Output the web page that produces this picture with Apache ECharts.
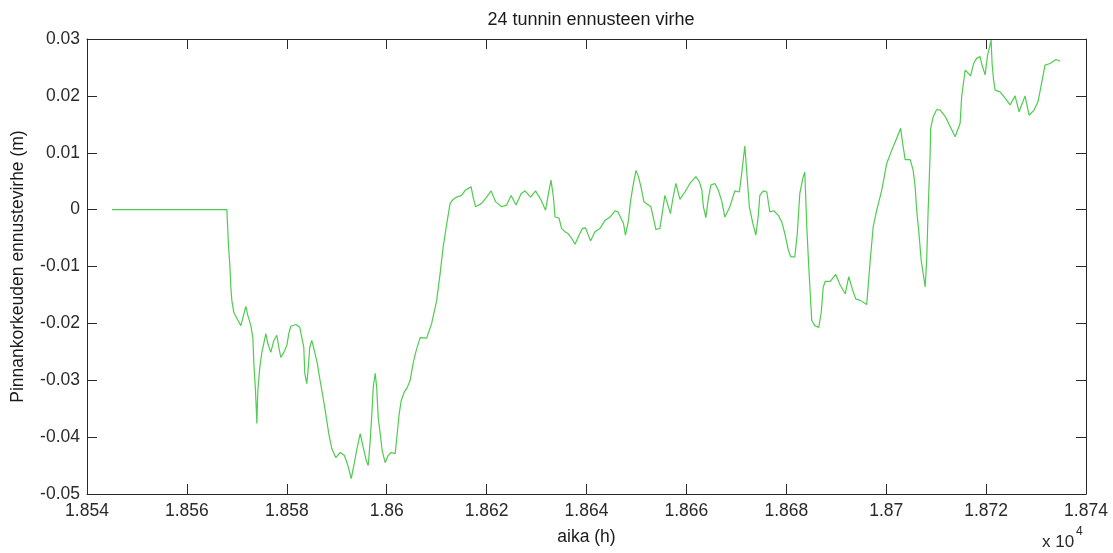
<!DOCTYPE html>
<html>
<head>
<meta charset="utf-8">
<title>24 tunnin ennusteen virhe</title>
<script src="https://cdn.jsdelivr.net/npm/echarts@6/dist/echarts.min.js"></script>
<style>
  html, body { margin: 0; padding: 0; background: #ffffff; overflow: hidden; }
  #chart { width: 1113px; height: 553px; overflow: hidden; }
</style>
</head>
<body>
<div id="chart"></div>
<script>
// Time of each sample (h)
const hours = [
  18545.0, 18568.0, 18568.1, 18568.3, 18568.6, 18568.8, 18569.0, 18569.4, 18570.0, 18570.8,
  18571.8, 18572.2, 18572.8, 18573.2, 18573.4, 18573.7, 18573.9, 18574.0, 18574.2, 18574.6,
  18575.0, 18575.4, 18575.8, 18576.2, 18576.8, 18577.4, 18578.0, 18578.4, 18578.8, 18579.4,
  18580.0, 18580.4, 18580.8, 18581.8, 18582.6, 18583.0, 18583.4, 18583.6, 18584.0, 18584.2,
  18584.6, 18585.0, 18585.4, 18586.1, 18586.6, 18587.2, 18587.8, 18588.4, 18589.0, 18589.8,
  18590.7, 18591.5, 18592.1, 18592.5, 18592.9, 18593.5, 18594.1, 18594.7, 18595.3, 18595.9,
  18596.3, 18596.7, 18597.1, 18597.3, 18597.7, 18598.0, 18598.3, 18598.7, 18599.1, 18599.7,
  18600.3, 18600.9, 18601.7, 18602.1, 18602.5, 18602.9, 18603.5, 18604.1, 18604.7, 18605.3,
  18605.9, 18606.7, 18608.0, 18609.0, 18610.0, 18610.7, 18611.3, 18612.0, 18612.7, 18613.3,
  18614.0, 18615.0, 18615.7, 18616.9, 18617.3, 18617.8, 18619.0, 18620.0, 18620.9, 18621.8,
  18623.0, 18624.0, 18624.9, 18625.9, 18626.9, 18627.7, 18628.8, 18629.8, 18630.9, 18631.8,
  18632.4, 18632.9, 18633.4, 18633.7, 18634.5, 18635.0, 18635.7, 18636.3, 18637.0, 18637.7,
  18638.5, 18639.2, 18639.8, 18640.8, 18641.7, 18642.7, 18643.7, 18644.7, 18645.7, 18646.3,
  18646.9, 18647.4, 18647.8, 18648.4, 18648.8, 18649.4, 18649.9, 18650.4, 18650.9, 18651.5,
  18652.1, 18652.9, 18653.4, 18653.9, 18654.7, 18655.2, 18655.7, 18656.2, 18656.8, 18657.3,
  18657.9, 18658.7, 18659.7, 18660.7, 18661.9, 18662.6, 18663.1, 18663.4, 18663.9, 18664.4,
  18664.9, 18665.7, 18666.4, 18667.1, 18667.7, 18668.7, 18669.7, 18670.6, 18671.1, 18671.7,
  18672.1, 18672.6, 18673.3, 18673.9, 18674.4, 18674.7, 18675.4, 18676.1, 18676.7, 18677.5,
  18678.4, 18679.1, 18679.7, 18680.4, 18680.9, 18681.7, 18682.2, 18682.7, 18683.3, 18683.7,
  18684.1, 18684.5, 18684.9, 18685.1, 18685.7, 18686.5, 18687.0, 18687.4, 18687.8, 18688.8,
  18689.9, 18690.8, 18691.8, 18692.5, 18693.2, 18693.9, 18694.9, 18696.1, 18696.8, 18697.4,
  18698.1, 18699.1, 18700.1, 18701.0, 18701.8, 18702.9, 18703.3, 18703.8, 18704.8, 18705.4,
  18705.8, 18706.1, 18706.5, 18707.0, 18707.4, 18707.8, 18708.1, 18708.4, 18708.8, 18708.9,
  18709.4, 18710.1, 18710.8, 18711.8, 18712.8, 18713.8, 18714.8, 18715.1, 18715.8, 18716.3,
  18716.9, 18717.5, 18718.1, 18718.8, 18719.1, 18719.8, 18720.3, 18720.7, 18721.0, 18721.2,
  18721.5, 18721.8, 18722.8, 18723.8, 18724.8, 18725.8, 18726.6, 18727.8, 18728.6, 18729.6,
  18730.4, 18731.1, 18731.8, 18732.8, 18734.0, 18734.8
];

// Forecast error of the water level (m)
const errors = [
  0.0000, 0.0000, -0.0019, -0.0059, -0.0098, -0.0137, -0.0160, -0.0181, -0.0191, -0.0204,
  -0.0170, -0.0186, -0.0204, -0.0225, -0.0270, -0.0313, -0.0353, -0.0376, -0.0318, -0.0277,
  -0.0251, -0.0235, -0.0218, -0.0235, -0.0251, -0.0230, -0.0221, -0.0242, -0.0260, -0.0251,
  -0.0239, -0.0218, -0.0205, -0.0202, -0.0207, -0.0209, -0.0242, -0.0288, -0.0306, -0.0288,
  -0.0242, -0.0230, -0.0244, -0.0270, -0.0297, -0.0327, -0.0359, -0.0394, -0.0420, -0.0436,
  -0.0427, -0.0432, -0.0446, -0.0459, -0.0473, -0.0446, -0.0418, -0.0394, -0.0418, -0.0441,
  -0.0450, -0.0406, -0.0348, -0.0313, -0.0288, -0.0313, -0.0366, -0.0394, -0.0424, -0.0445,
  -0.0432, -0.0427, -0.0429, -0.0394, -0.0359, -0.0336, -0.0321, -0.0313, -0.0300, -0.0270,
  -0.0248, -0.0225, -0.0226, -0.0200, -0.0160, -0.0112, -0.0066, -0.0026, 0.0011, 0.0018,
  0.0022, 0.0025, 0.0034, 0.0040, 0.0022, 0.0005, 0.0011, 0.0022, 0.0033, 0.0014,
  0.0005, 0.0008, 0.0025, 0.0008, 0.0028, 0.0033, 0.0022, 0.0033, 0.0017, -0.0001,
  0.0029, 0.0052, 0.0020, -0.0013, -0.0015, -0.0033, -0.0039, -0.0042, -0.0050, -0.0061,
  -0.0045, -0.0033, -0.0032, -0.0055, -0.0039, -0.0033, -0.0019, -0.0013, -0.0002, -0.0004,
  -0.0015, -0.0024, -0.0045, -0.0019, 0.0014, 0.0046, 0.0069, 0.0058, 0.0040, 0.0014,
  0.0010, 0.0005, -0.0015, -0.0035, -0.0033, -0.0004, 0.0025, 0.0011, -0.0007, 0.0020,
  0.0046, 0.0018, 0.0031, 0.0046, 0.0058, 0.0049, 0.0034, 0.0005, -0.0014, 0.0020,
  0.0043, 0.0046, 0.0034, 0.0014, -0.0013, 0.0005, 0.0033, 0.0031, 0.0066, 0.0112,
  0.0064, 0.0005, -0.0024, -0.0045, -0.0010, 0.0025, 0.0033, 0.0031, -0.0004, -0.0002,
  -0.0010, -0.0022, -0.0042, -0.0071, -0.0083, -0.0083, -0.0042, 0.0028, 0.0055, 0.0066,
  -0.0030, -0.0101, -0.0165, -0.0195, -0.0204, -0.0207, -0.0180, -0.0136, -0.0126, -0.0126,
  -0.0114, -0.0133, -0.0148, -0.0118, -0.0139, -0.0157, -0.0160, -0.0167, -0.0089, -0.0030,
  -0.0001, 0.0034, 0.0081, 0.0102, 0.0119, 0.0143, 0.0116, 0.0088, 0.0088, 0.0069,
  0.0040, -0.0001, -0.0036, -0.0089, -0.0112, -0.0136, -0.0089, -0.0001, 0.0099, 0.0143,
  0.0163, 0.0176, 0.0175, 0.0164, 0.0146, 0.0128, 0.0152, 0.0198, 0.0245, 0.0241,
  0.0235, 0.0257, 0.0266, 0.0269, 0.0257, 0.0237, 0.0272, 0.0286, 0.0298, 0.0257,
  0.0228, 0.0210, 0.0207, 0.0196, 0.0184, 0.0200, 0.0172, 0.0200, 0.0166, 0.0175,
  0.0190, 0.0222, 0.0254, 0.0257, 0.0264, 0.0261
];

// Axis ranges and tick steps
const xRange = [18540, 18740];
const xStep = 20;
const yRange = [-0.05, 0.03];
const yStep = 0.01;

const titleText = '24 tunnin ennusteen virhe';
const xName = 'aika (h)';
const yName = 'Pinnankorkeuden ennustevirhe (m)';
const xScaleNote = 'x 10';
const xScaleExp = '4';

const series = hours.map((h, i) => [h, errors[i]]);

const fontFamily = '"Liberation Sans", Arial, Helvetica, sans-serif';
const ink = '#2a2a2a';
const labelSize = 17.5;
const nameSize = 17.5;

const boxLine = { show: true, onZero: false, lineStyle: { color: ink, width: 1 } };
const tickIn = { show: true, inside: true, length: 10, lineStyle: { color: ink, width: 1 } };

const chart = echarts.init(document.getElementById('chart'), null, { renderer: 'canvas' });

chart.setOption({
  animation: false,
  backgroundColor: '#ffffff',
  title: {
    text: titleText,
    left: 586,
    top: 6,
    textAlign: 'center',
    textStyle: { fontFamily, fontSize: 18, fontWeight: 'normal', color: '#1a1a1a' }
  },
  // fixed plot box; labels sit outside it without shrinking it
  grid: {
    left: 87, top: 39, width: 999, height: 455,
    containLabel: false, outerBoundsMode: 'none'
  },
  xAxis: [
    {
      type: 'value', position: 'bottom',
      min: xRange[0], max: xRange[1], interval: xStep,
      axisLine: boxLine, axisTick: tickIn, splitLine: { show: false },
      axisLabel: {
        margin: 8, color: ink, fontFamily, fontSize: labelSize,
        formatter: v => String(+(v / 10000).toFixed(3))
      },
      name: xName, nameLocation: 'middle', nameGap: 34,
      nameTextStyle: { fontFamily, fontSize: nameSize, color: '#1a1a1a' }
    },
    {
      type: 'value', position: 'top',
      min: xRange[0], max: xRange[1], interval: xStep,
      axisLine: boxLine, axisTick: tickIn, axisLabel: { show: false }, splitLine: { show: false }
    }
  ],
  yAxis: [
    {
      type: 'value', position: 'left',
      min: yRange[0], max: yRange[1], interval: yStep,
      axisLine: boxLine, axisTick: tickIn, splitLine: { show: false },
      axisLabel: {
        margin: 7, color: ink, fontFamily, fontSize: labelSize,
        formatter: v => String(+v.toFixed(2))
      },
      name: yName, nameLocation: 'middle', nameGap: 60, nameRotate: 90,
      nameTextStyle: { fontFamily, fontSize: nameSize, color: '#1a1a1a' }
    },
    {
      type: 'value', position: 'right',
      min: yRange[0], max: yRange[1], interval: yStep,
      axisLine: boxLine, axisTick: tickIn, axisLabel: { show: false }, splitLine: { show: false }
    }
  ],
  graphic: [
    {
      type: 'text', left: 1042, top: 534,
      style: { text: xScaleNote, fontFamily, fontSize: 17, fill: ink }
    },
    {
      type: 'text', left: 1076, top: 526,
      style: { text: xScaleExp, fontFamily, fontSize: 12, fill: ink }
    }
  ],
  series: [
    {
      type: 'line',
      data: series,
      showSymbol: false,
      symbol: 'none',
      lineStyle: { color: '#4fcc4f', width: 1.2 },
      silent: true
    }
  ]
});
</script>
</body>
</html>
